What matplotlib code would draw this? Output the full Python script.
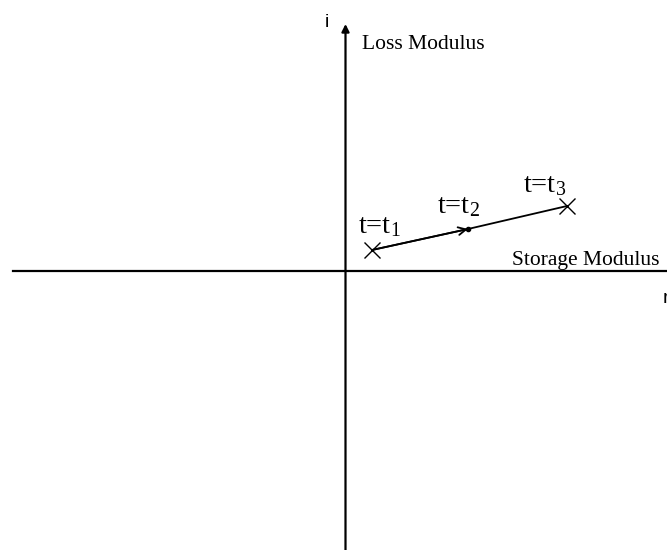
import matplotlib.pyplot as plt

plt.rcParams['mathtext.fontset'] = 'custom'
plt.rcParams['mathtext.rm'] = 'Liberation Serif'
plt.rcParams['mathtext.it'] = 'Liberation Serif'

# storage (real) and loss (imaginary) modulus at three times
storage = [26.5, 122.5, 221.5]
loss = [21, 42, 65]
labels = ['t=t$_1$', 't=t$_2$', 't=t$_3$']

fig = plt.figure(figsize=(6.67, 5.5), dpi=100)
ax = fig.add_axes([0, 0, 1, 1])
ax.set_xlim(-345.5, 321.5)
ax.set_ylim(-279, 271)
ax.axis('off')

# axes of the complex plane
ax.plot([-332.5, 321.5], [0, 0], color='black', lw=1.6)
ax.annotate('', xy=(0, 247), xytext=(0, -279),
            arrowprops=dict(arrowstyle='-|>', color='black', lw=1.6,
                            mutation_scale=11, shrinkA=0, shrinkB=0))

# path through the three states
ax.plot(storage, loss, color='black', lw=1.3)
ax.annotate('', xy=(storage[1], loss[1]), xytext=(storage[0], loss[0]),
            arrowprops=dict(arrowstyle='->', color='black', lw=1.3,
                            mutation_scale=14, shrinkA=0, shrinkB=0))
ax.plot(storage[1], loss[1], 'o', color='black', markersize=3)
ax.plot([storage[0], storage[2]], [loss[0], loss[2]], 'x', color='black',
        markersize=11, mew=1)

offsets = [(-14, 17), (-31, 16), (-44, 14)]
for x, y, lab, (dx, dy) in zip(storage, loss, labels, offsets):
    ax.text(x + dx, y + dy, lab, fontsize=20.5, family='Liberation Serif',
            ha='left', va='baseline')

ax.text(16.5, 222, 'Loss Modulus', fontsize=15.5, family='Liberation Serif',
        ha='left', va='baseline')
ax.text(314.5, 6, 'Storage Modulus', fontsize=15.5, family='Liberation Serif',
        ha='right', va='baseline')
ax.text(-18.5, 244, 'i', fontsize=14, family='Liberation Sans',
        ha='center', va='baseline')
ax.text(317, -32, 'r', fontsize=14, family='Liberation Sans',
        ha='left', va='baseline')

fig.savefig('out.png', dpi=100)
